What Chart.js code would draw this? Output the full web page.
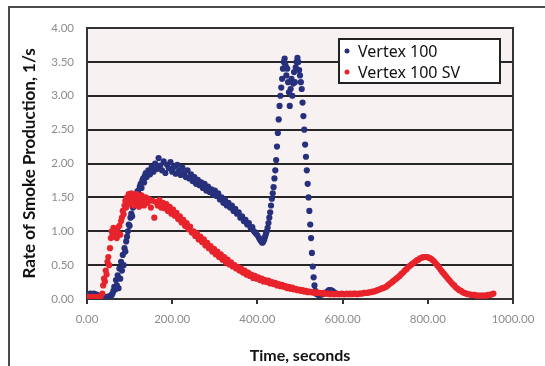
<!DOCTYPE html>
<html>
<head>
<meta charset="utf-8">
<script src="https://cdn.jsdelivr.net/npm/chart.js@4.4.1/dist/chart.umd.min.js"></script>
<style>
  html, body { margin: 0; padding: 0; background: #fff; }
</style>
</head>
<body>
<canvas id="smokeChart" width="545" height="366"></canvas>
<script>
// Vertex 100 : temps (s) et taux de production de fumée (1/s)
const blueTime = [
  0, 4, 8, 12, 16, 20, 24, 28, 32, 36, 40, 44, 48, 52, 56,
  58, 60, 62, 64, 66, 68, 70, 72, 74, 76, 78, 80, 82, 84, 86, 88, 90, 92, 94, 96,
  98, 100, 102, 104, 106, 108, 110, 112, 114, 116, 118, 120, 122, 124, 126, 128, 130, 132, 134, 136, 138, 140,
  144, 148, 152, 156, 160, 164, 168, 172, 176, 180, 184, 188, 192, 196, 200, 204, 208, 212, 216, 220,
  224, 228, 232, 236, 240, 244, 248, 252, 256, 260, 264, 268, 272, 276, 280, 284, 288, 292, 296, 300,
  304, 308, 312, 316, 320, 324, 328, 332, 336, 340, 344, 348, 352, 356, 360, 364, 368, 372, 376, 380,
  384, 388, 392, 396, 400, 404,
  406, 408, 410, 412, 414, 416, 418, 420, 422, 424, 426, 428, 430, 432, 434, 436, 438, 440, 442, 444,
  446, 448, 450, 452, 454, 456, 458, 460, 462, 464, 466, 468, 470, 472, 474, 476, 478, 480, 482, 484,
  486, 488, 490, 492, 494, 496, 498, 500, 502, 504, 506, 508, 510, 512, 514, 516, 518, 520, 522, 524,
  526, 528, 530, 532, 534, 536, 538, 540,
  544, 548, 552, 556, 560, 564, 568, 572, 576, 580, 584
];
const blueRate = [
  0.06, 0.07, 0.08, 0.07, 0.08, 0.07, 0.06, 0.04, 0.03, 0.03, 0.02, 0.03, 0.03, 0.04, 0.05,
  0.06, 0.08, 0.12, 0.18, 0.14, 0.28, 0.2, 0.35, 0.16, 0.45, 0.3, 0.55, 0.42, 0.65, 0.5, 0.75, 0.7, 0.85, 0.92, 1.0,
  1.1, 1.08, 1.2, 1.26, 1.22, 1.35, 1.4, 1.38, 1.48, 1.52, 1.58, 1.6, 1.55, 1.66, 1.7, 1.64, 1.75, 1.78, 1.72, 1.82, 1.86, 1.8,
  1.9, 1.84, 1.95, 1.88, 2.0, 1.92, 2.08, 1.97, 1.9, 2.03, 1.86, 1.98, 1.93, 2.02, 1.88, 1.95, 1.85, 1.98, 1.9, 1.83,
  1.94, 1.86, 1.8, 1.9, 1.78, 1.84, 1.74, 1.8, 1.7, 1.76, 1.68, 1.72, 1.64, 1.7, 1.6, 1.66, 1.58, 1.62, 1.54, 1.6,
  1.52, 1.56, 1.47, 1.5, 1.42, 1.46, 1.38, 1.42, 1.35, 1.38, 1.3, 1.33, 1.26, 1.28, 1.2, 1.22, 1.15, 1.17, 1.1, 1.12,
  1.05, 1.06, 1.0, 0.97, 0.94, 0.9,
  0.88, 0.86, 0.84, 0.83, 0.85, 0.88, 0.92, 0.96, 1.0, 1.05, 1.12, 1.2, 1.28, 1.38, 1.48, 1.56, 1.65, 1.78, 1.9, 2.05,
  2.25, 2.45, 2.65, 2.85, 3.0, 3.12, 3.25, 3.4, 3.5, 3.55, 3.45, 3.3, 3.4, 3.2, 3.05, 2.85, 3.1, 3.25, 3.0, 3.18,
  3.35, 3.2, 3.42, 3.5, 3.56, 3.5, 3.38, 3.3, 3.2, 3.1, 2.9, 2.7, 2.5, 2.28, 2.1, 1.9, 1.7, 1.5, 1.3, 1.1,
  0.9, 0.68, 0.48, 0.32, 0.2, 0.12, 0.08, 0.07,
  0.06, 0.06, 0.07, 0.08, 0.09, 0.11, 0.13, 0.13, 0.12, 0.1, 0.08
];

// Vertex 100 SV
const redTime = [
  0, 4, 8, 12, 16, 20, 24, 28, 32, 36,
  38, 40, 42, 44, 46, 48, 50, 52, 54, 56, 58, 60, 62, 64, 66, 68, 70, 72, 74, 76,
  78, 80, 82, 84, 86, 88, 90, 92, 94, 96, 98, 100, 102, 104, 106, 108, 110, 112, 114, 116,
  118, 120, 122, 124, 126, 128, 130,
  134, 138, 142, 146, 150, 154, 158, 162, 166, 170, 174, 178, 182, 186, 190, 194, 198, 202, 206, 210,
  214, 218, 222, 226, 230, 234, 238, 242, 246, 250, 254, 258, 262, 266, 270, 274, 278, 282, 286, 290,
  294, 298, 302, 306, 310, 314, 318, 322, 326, 330, 334, 338, 342, 346, 350, 354, 358, 362, 366, 370,
  374, 378, 382, 386, 390, 394, 398, 402, 406, 410, 414, 418, 422, 426, 430, 434, 438, 442, 446, 450,
  454, 458, 462, 466, 470, 474, 478, 482, 486, 490, 494, 498, 502, 506, 510, 514, 518, 522, 526, 530,
  534, 538, 542, 546, 550, 554, 558, 562, 566, 570, 574, 578, 582, 586, 590, 594, 598, 602, 606, 610,
  614, 618, 622, 626, 630, 634, 638, 642, 646, 650, 654, 658, 662, 666, 670, 674, 678, 682, 686, 690,
  694, 698, 702, 706, 710, 714, 718, 722, 726, 730, 734, 738, 742, 746, 750, 754, 758, 762, 766, 770,
  774, 778, 782, 786, 790, 794, 798, 802, 806, 810, 814, 818, 822, 826, 830, 834, 838, 842, 846, 850,
  854, 858, 862, 866, 870, 874, 878, 882, 886, 890, 894, 898, 902, 906, 910, 914, 918, 922, 926, 930,
  934, 938, 942, 946, 950, 954
];
const redRate = [
  0.03, 0.03, 0.02, 0.03, 0.03, 0.02, 0.03, 0.03, 0.04, 0.08,
  0.2, 0.3, 0.26, 0.42, 0.36, 0.55, 0.62, 0.5, 0.75, 0.9, 1.0, 0.95, 1.05, 0.92, 1.02, 0.98, 0.9, 1.05, 0.97, 1.08,
  0.95, 1.15, 1.2, 1.3, 1.25, 1.38, 1.45, 1.35, 1.5, 1.42, 1.55, 1.48, 1.4, 1.56, 1.45, 1.52, 1.38, 1.5, 1.44, 1.55,
  1.4, 1.48, 1.36, 1.5, 1.42, 1.53, 1.45,
  1.38, 1.5, 1.42, 1.47, 1.35, 1.45, 1.2, 1.43, 1.38, 1.46, 1.35, 1.42, 1.34, 1.4, 1.3, 1.36, 1.26, 1.32, 1.23, 1.27,
  1.18, 1.22, 1.13, 1.17, 1.08, 1.12, 1.03, 1.07, 0.98, 1.0, 0.93, 0.97, 0.88, 0.92, 0.84, 0.88, 0.79, 0.83, 0.75, 0.78,
  0.7, 0.74, 0.66, 0.7, 0.62, 0.66, 0.58, 0.62, 0.54, 0.58, 0.51, 0.54, 0.48, 0.5, 0.45, 0.47, 0.42, 0.45, 0.39, 0.42,
  0.36, 0.39, 0.34, 0.36, 0.31, 0.34, 0.3, 0.32, 0.28, 0.3, 0.26, 0.28, 0.25, 0.27, 0.23, 0.25, 0.22, 0.24, 0.2, 0.22,
  0.19, 0.21, 0.18, 0.19, 0.16, 0.18, 0.15, 0.17, 0.14, 0.15, 0.13, 0.14, 0.12, 0.13, 0.11, 0.12, 0.1, 0.11, 0.1, 0.1,
  0.09, 0.1, 0.09, 0.09, 0.08, 0.09, 0.08, 0.08, 0.08, 0.07, 0.08, 0.07, 0.07, 0.08, 0.07, 0.07, 0.08, 0.07, 0.07, 0.08,
  0.07, 0.08, 0.07, 0.08, 0.08, 0.07, 0.08, 0.08, 0.08, 0.09, 0.09, 0.09, 0.1, 0.1, 0.11, 0.11, 0.12, 0.13, 0.14, 0.15,
  0.16, 0.17, 0.18, 0.2, 0.22, 0.24, 0.26, 0.28, 0.3, 0.32, 0.34, 0.37, 0.39, 0.42, 0.44, 0.47, 0.49, 0.51, 0.53, 0.55,
  0.57, 0.58, 0.6, 0.61, 0.62, 0.62, 0.62, 0.61, 0.6, 0.58, 0.56, 0.53, 0.5, 0.47, 0.43, 0.4, 0.37, 0.34, 0.31, 0.28,
  0.25, 0.22, 0.2, 0.17, 0.15, 0.13, 0.12, 0.1, 0.09, 0.08, 0.07, 0.07, 0.06, 0.06, 0.06, 0.05, 0.05, 0.05, 0.05, 0.05,
  0.05, 0.05, 0.06, 0.06, 0.07, 0.08
];

const seriesLabels = ['Vertex 100', 'Vertex 100 SV'];
const seriesColors = ['#27307c', '#e8232b'];

function toPoints(times, rates) {
  return times.map((t, i) => ({ x: t, y: rates[i] }));
}

// Cadre, fond de la zone de tracé et légende encadrée
const framePlugin = {
  id: 'frame',
  beforeDraw(chart) {
    const { ctx, chartArea: a } = chart;
    ctx.save();
    ctx.fillStyle = '#f7f1f1';
    ctx.fillRect(a.left, a.top, a.right - a.left, a.bottom - a.top);
    ctx.strokeStyle = '#4a4a4a';
    ctx.lineWidth = 2;
    ctx.beginPath();
    ctx.moveTo(9, chart.height);
    ctx.lineTo(9, 7);
    ctx.lineTo(chart.width, 7);
    ctx.stroke();
    ctx.restore();
  },
  beforeDatasetsDraw(chart) {
    const { ctx, chartArea: a } = chart;
    ctx.save();
    ctx.strokeStyle = '#333';
    ctx.lineWidth = 2;
    ctx.strokeRect(a.left, a.top, a.right - a.left, a.bottom - a.top);
    ctx.restore();
  },
  afterDraw(chart) {
    const { ctx, chartArea: a } = chart;
    const x0 = a.right - 174, y0 = a.top + 11, w = 161, h = 44;
    ctx.save();
    ctx.fillStyle = '#fff';
    ctx.fillRect(x0, y0, w, h);
    ctx.strokeStyle = '#222';
    ctx.lineWidth = 2;
    ctx.strokeRect(x0, y0, w, h);
    ctx.font = '16px "Noto Sans"';
    ctx.textBaseline = 'middle';
    chart.data.datasets.forEach((ds, i) => {
      const cy = y0 + 12 + i * 21;
      ctx.fillStyle = ds.backgroundColor;
      ctx.beginPath();
      ctx.arc(x0 + 8, cy, 2.5, 0, Math.PI * 2);
      ctx.fill();
      ctx.fillStyle = '#111';
      ctx.fillText(ds.label, x0 + 19, cy + 1);
    });
    ctx.restore();
  }
};

const tickFont = { family: 'Lato', size: 11.5 };

new Chart(document.getElementById('smokeChart'), {
  type: 'scatter',
  data: {
    datasets: [
      {
        label: seriesLabels[0],
        data: toPoints(blueTime, blueRate),
        backgroundColor: seriesColors[0],
        order: 1
      },
      {
        label: seriesLabels[1],
        data: toPoints(redTime, redRate),
        backgroundColor: seriesColors[1],
        order: 0
      }
    ]
  },
  options: {
    responsive: false,
    animation: false,
    layout: { padding: { left: 0, right: 32, top: 28, bottom: 0 } },
    elements: { point: { radius: 3.1, borderWidth: 0, hoverRadius: 3.1 } },
    plugins: { legend: { display: false }, tooltip: { enabled: false } },
    scales: {
      x: {
        type: 'linear',
        min: 0,
        max: 1000,
        afterFit: s => { s.height = 67; },
        ticks: { stepSize: 200, callback: v => v.toFixed(2), color: '#8c8c8c', font: tickFont, padding: 8, maxRotation: 0 },
        grid: { drawOnChartArea: false, tickLength: 5, color: '#333', lineWidth: 2 },
        border: { color: '#333', width: 2 },
        title: {
          display: true,
          text: 'Time, seconds',
          color: '#111',
          font: { family: 'Lato', size: 16, weight: 'bold' },
          padding: { top: 0, bottom: 1 }
        }
      },
      y: {
        min: 0,
        max: 4,
        afterFit: s => { s.width = 87; },
        ticks: { stepSize: 0.5, callback: v => v.toFixed(2), color: '#8c8c8c', font: tickFont, padding: 13 },
        grid: { color: '#262626', lineWidth: 2, drawTicks: false },
        border: { color: '#333', width: 2 },
        title: {
          display: true,
          text: 'Rate of Smoke Production, 1/s',
          color: '#111',
          font: { family: 'Lato', size: 17, weight: 'bold' },
          padding: { top: 19 }
        }
      }
    }
  },
  plugins: [framePlugin]
});
</script>
</body>
</html>
